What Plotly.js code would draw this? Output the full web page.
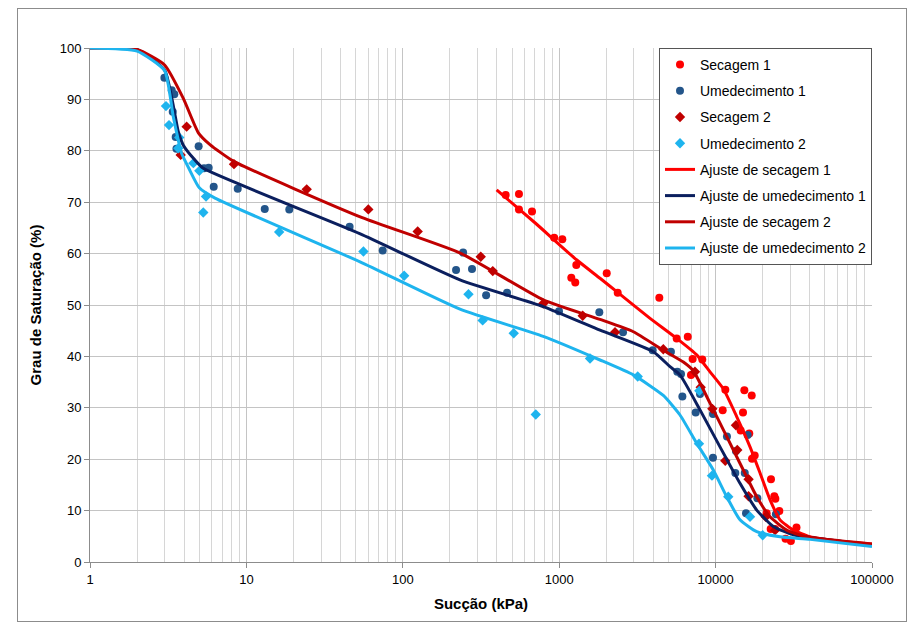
<!DOCTYPE html>
<html><head><meta charset="utf-8">
<script src="https://cdn.plot.ly/plotly-3.0.1.min.js"></script>
<style>
html,body{margin:0;padding:0;background:#fff;}
#wrap{position:relative;width:907px;height:624px;}
#chart{position:absolute;left:0;top:0;width:907px;height:624px;}
#frame{position:absolute;left:17px;top:8px;width:888px;height:612px;border:1px solid #8c8c8c;pointer-events:none;}
</style></head>
<body>
<div id="wrap"><div id="chart"></div><div id="frame"></div></div>
<script>
// Measured points
const sec1X = [455,553,553,670,929,1047,1286,1195,1267,2013,2366,4366,5640,6637,7130,8220,6960,11540,15270,17020,11100,14970,14460,16420,17780,17100,22600,23730,24100,25560,21200,22500,24000,32900,28000,30300];
const sec1Y = [71.4,71.6,68.6,68.2,63.1,62.8,57.8,55.3,54.4,56.2,52.4,51.4,43.5,43.8,39.5,39.4,36.4,33.5,33.4,32.4,29.5,29.1,25.6,25.0,20.7,20.1,16.1,12.8,12.3,9.9,9.5,6.4,6.4,6.7,4.5,4.1];

const ume1X = [2.99,3.33,3.46,3.38,3.53,3.57,4.95,5.36,5.74,6.18,8.8,13.1,18.8,45.7,74.4,243,219,277,341,464,997,1805,2559,3960,5180,5690,6010,6130,7460,7950,9620,11820,9620,13490,13370,15360,16030,15650,18490,24300];
const ume1Y = [94.2,91.8,91.0,87.6,82.7,80.4,80.9,76.6,76.7,73.0,72.6,68.7,68.6,65.2,60.6,60.2,56.8,57.0,51.9,52.4,48.8,48.6,44.7,41.2,40.9,37.0,36.6,32.2,29.1,32.7,28.8,24.4,20.3,21.6,17.3,17.3,24.7,9.5,12.4,9.3];

const sec2X = [3.80,4.15,8.33,24.3,60.2,124.5,315,376,791,1413,2275,4630,7380,8030,9530,13490,13760,11530,16250,16250,20900,24000];
const sec2Y = [79.2,84.7,77.4,72.5,68.6,64.3,59.4,56.6,50.3,47.9,44.7,41.4,37.0,34.0,29.8,26.6,21.8,19.7,16.1,12.8,8.8,6.2];

const ume2X = [3.06,3.20,3.72,3.67,4.58,5.0,5.52,5.3,16.2,56,102,263,324,512,708,1574,3177,7870,7830,9480,12050,16600,20000];
const ume2Y = [88.7,85.0,82.6,80.5,77.6,76.1,71.1,68.0,64.2,60.4,55.7,52.1,47.0,44.5,28.7,39.6,36.1,33.3,23.0,16.8,12.7,8.8,5.2];

// Fitted curves
const fitSec1X = [398,700,1290,1824,2333,3810,5640,7570,9210,11200,13640,16600,19240,22300,25800,31400,40200,60000,100000];
const fitSec1Y = [72.4,66.0,58.8,55.2,52.6,47.4,43.5,40.3,37.0,33.7,28.3,22.4,17.3,12.1,8.2,6.2,4.9,4.1,3.5];

const fitUme1X = [1,2,3.0,3.67,3.95,4.69,5.3,53,232,791,1824,4000,5110,5920,7950,10670,14320,18320,23400,31400,100000];
const fitUme1Y = [100,99.7,95.7,83.7,81.1,78.2,76.6,63.9,54.9,49.7,45.1,40.9,38.0,36.4,29.6,22.4,15.3,10.1,6.9,5.3,3.3];

const fitSec2X = [1,2,3.0,3.95,4.93,5.85,8.25,55,233,791,1824,2978,4630,6220,7200,9210,11780,15030,18320,22300,28500,38000,100000];
const fitSec2Y = [100,99.7,96.7,90.2,83.5,81.2,78.0,67.0,60.1,51.0,47.2,44.8,41.2,38.9,37.2,30.9,24.4,17.9,12.7,8.8,6.2,4.9,3.5];

const fitUme2X = [1,2,3.0,3.41,3.85,4.3,5.0,6.3,53.3,232,791,1824,2978,4630,5920,7570,9670,11780,14320,18320,25800,40200,100000];
const fitUme2Y = [100,99.4,95.6,86.6,79.5,76.5,72.8,70.8,58.4,49.2,43.9,39.3,36.4,32.4,28.6,23.1,17.9,12.7,8.2,5.9,4.9,4.4,3.0];

const xTicks = [1,10,100,1000,10000,100000];
const xTickText = ['1','10','100','1000','10000','100000'];

const sm = 0.5;
const traces = [
  {x:sec1X,y:sec1Y,name:'Secagem 1',legendgroup:'g1',mode:'markers',type:'scatter',marker:{symbol:'circle',size:8,color:'#ff0000'}},
  {x:ume1X,y:ume1Y,name:'Umedecimento 1',legendgroup:'g2',mode:'markers',type:'scatter',marker:{symbol:'circle',size:8,color:'#23558a'}},
  {x:sec2X,y:sec2Y,name:'Secagem 2',legendgroup:'g3',mode:'markers',type:'scatter',marker:{symbol:'diamond',size:8,color:'#c00000'}},
  {x:ume2X,y:ume2Y,name:'Umedecimento 2',legendgroup:'g4',mode:'markers',type:'scatter',marker:{symbol:'diamond',size:8,color:'#1eb4ee'}},
  {x:fitSec1X,y:fitSec1Y,name:'Ajuste de secagem 1',legendgroup:'g5',mode:'lines',type:'scatter',line:{color:'#ff0000',width:3,shape:'spline',smoothing:sm}},
  {x:fitUme1X,y:fitUme1Y,name:'Ajuste de umedecimento 1',legendgroup:'g6',mode:'lines',type:'scatter',line:{color:'#0b1f5e',width:3,shape:'spline',smoothing:sm}},
  {x:fitSec2X,y:fitSec2Y,name:'Ajuste de secagem 2',legendgroup:'g7',mode:'lines',type:'scatter',line:{color:'#c00000',width:3,shape:'spline',smoothing:sm}},
  {x:fitUme2X,y:fitUme2Y,name:'Ajuste de umedecimento 2',legendgroup:'g8',mode:'lines',type:'scatter',line:{color:'#1eb4ee',width:3,shape:'spline',smoothing:sm}}
];

const layout = {
  width:907,height:624,
  margin:{l:90,r:35,t:48,b:62},
  paper_bgcolor:'#ffffff',plot_bgcolor:'#ffffff',
  font:{family:'Liberation Sans, Arial, sans-serif',size:13,color:'#000'},
  showlegend:true,
  legend:{x:1,xanchor:'right',y:1,yanchor:'top',bgcolor:'#ffffff',bordercolor:'#555',borderwidth:1,
          font:{size:14},traceorder:'grouped',tracegroupgap:5,itemwidth:30},
  xaxis:{type:'log',range:[0,5],tickvals:xTicks,ticktext:xTickText,
         showgrid:true,gridcolor:'#c4c4c4',gridwidth:1,
         minor:{showgrid:true,gridcolor:'#d6d6d6',dtick:'D1',ticks:''},
         showline:true,linecolor:'#8c8c8c',linewidth:1,ticks:'outside',ticklen:5,tickcolor:'#8c8c8c',
         zeroline:false,
         title:{text:'Sucção (kPa)',font:{size:15,family:'Liberation Sans, Arial, sans-serif',weight:'bold'},standoff:12}},
  yaxis:{range:[0,100],dtick:10,showgrid:true,gridcolor:'#c4c4c4',gridwidth:1,
         showline:true,linecolor:'#8c8c8c',linewidth:1,ticks:'outside',ticklen:5,tickcolor:'#8c8c8c',
         zeroline:false,
         title:{text:'Grau de Saturação (%)',font:{size:15,family:'Liberation Sans, Arial, sans-serif',weight:'bold'},standoff:14}}
};

Plotly.newPlot('chart',traces,layout,{displayModeBar:false,staticPlot:true});
</script>
</body></html>
